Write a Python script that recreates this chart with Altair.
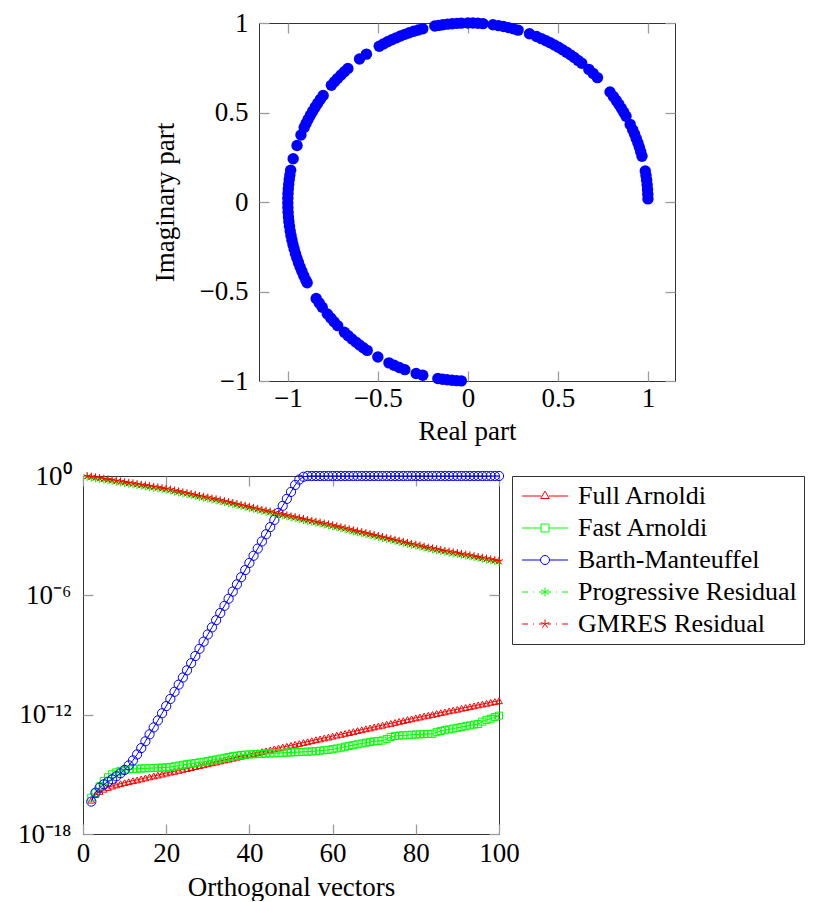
import altair as alt
import pandas as pd

# ---------------- data: eigenvalues (phase angle in degrees, |lambda| = 1) ----------------
eig_angle_deg = [
    1.0, 2.5, 4.0, 5.5, 7.0, 8.5, 10.0,
    14.8, 16.3, 17.8, 19.3, 20.8, 22.3, 23.8, 25.7,
    28.6, 30.1, 31.6, 33.1, 34.6, 36.1, 37.9,
    44.0, 45.9, 47.8,
    50.8, 52.3, 53.8, 55.3, 56.8, 58.3, 59.8, 61.3, 62.8, 64.3, 65.9, 67.6,
    70.0,
    73.8, 75.4, 77.0, 78.6, 80.2, 82.0,
    85.2, 86.8, 88.4, 90.0,
    92.1, 93.5, 95.0, 96.5, 98.0, 99.3, 100.6,
    104.5, 106.0, 107.5, 109.0, 110.5, 112.0, 113.5, 115.0, 116.5, 118.0, 119.5,
    124.3, 127.0,
    131.8, 133.3, 134.8, 136.3, 137.8, 139.3,
    143.5, 145.0, 146.5, 148.0, 149.5, 151.0, 152.5, 154.0, 155.4,
    158.0, 161.6, 166.0,
    169.8, 171.3, 172.8, 174.3, 175.8, 177.3, 178.8, 180.3, 181.8, 183.3,
    184.8, 186.3, 187.8, 189.3, 190.8, 192.3, 193.8, 195.3, 196.8, 198.3,
    199.8, 201.3, 202.8, 204.3, 205.8, 206.8,
    212.6, 214.3, 216.0,
    218.7, 220.4, 222.0, 223.7,
    226.7, 228.3, 229.9, 231.5, 233.0, 234.5, 236.0,
    240.0,
    244.0, 245.8, 247.6, 249.5,
    253.3, 255.5,
    260.4, 261.9, 263.4, 264.9, 266.4, 267.9,
]

# ---------------- data: orthogonality / residual histories (log10 values) ----------------
x_ortho = list(range(2, 101))
x_resid = list(range(1, 101))

full_arnoldi_log = [
    -16.30, -16.02, -15.86, -15.75, -15.66, -15.59, -15.53, -15.47, -15.42,
    -15.37, -15.32, -15.28, -15.23, -15.18, -15.13, -15.08, -15.04, -14.99, -14.94,
    -14.89, -14.85, -14.80, -14.75, -14.71, -14.66, -14.61, -14.56, -14.52, -14.47,
    -14.42, -14.38, -14.33, -14.28, -14.24, -14.19, -14.14, -14.09, -14.05, -14.00,
    -13.95, -13.91, -13.86, -13.82, -13.77, -13.72, -13.68, -13.63, -13.59, -13.54,
    -13.49, -13.45, -13.40, -13.36, -13.31, -13.26, -13.22, -13.17, -13.13, -13.08,
    -13.03, -12.99, -12.94, -12.90, -12.85, -12.80, -12.76, -12.71, -12.67, -12.62,
    -12.57, -12.53, -12.48, -12.44, -12.39, -12.34, -12.30, -12.25, -12.21, -12.16,
    -12.12, -12.07, -12.03, -11.99, -11.94, -11.90, -11.86, -11.81, -11.77, -11.73,
    -11.68, -11.64, -11.60, -11.56, -11.51, -11.47, -11.43, -11.38, -11.34, -11.30,
]
fast_arnoldi_log = [
    -16.17, -15.95, -15.60, -15.33, -15.15, -15.00, -14.90, -14.83, -14.78,
    -14.75, -14.73, -14.72, -14.71, -14.70, -14.69, -14.68, -14.67, -14.66, -14.65,
    -14.63, -14.60, -14.56, -14.52, -14.49, -14.46, -14.43, -14.40, -14.37, -14.33,
    -14.29, -14.25, -14.21, -14.17, -14.13, -14.09, -14.06, -14.03, -14.01, -14.00,
    -13.99, -13.98, -13.97, -13.96, -13.95, -13.94, -13.93, -13.92, -13.91, -13.90,
    -13.89, -13.88, -13.87, -13.86, -13.85, -13.83, -13.81, -13.79, -13.77, -13.74,
    -13.70, -13.66, -13.61, -13.57, -13.53, -13.49, -13.45, -13.41, -13.37, -13.34,
    -13.32, -13.30, -13.22, -13.12, -13.07, -13.05, -13.04, -13.03, -13.01, -13.00,
    -12.99, -12.98, -12.97, -12.96, -12.88, -12.82, -12.78, -12.74, -12.70, -12.66,
    -12.62, -12.58, -12.54, -12.50, -12.47, -12.35, -12.26, -12.20, -12.12, -12.05,
]
barth_manteuffel_log = [
    -16.37, -15.92, -15.67, -15.50, -15.37, -15.25, -15.10, -14.95, -14.78,
    -14.55, -14.30, -14.00, -13.68, -13.34, -12.99, -12.64, -12.29, -11.93, -11.57,
    -11.21, -10.85, -10.49, -10.13, -9.77, -9.41, -9.05, -8.69, -8.33, -7.97,
    -7.61, -7.25, -6.89, -6.53, -6.17, -5.81, -5.45, -5.09, -4.73, -4.37,
    -4.01, -3.65, -3.29, -2.93, -2.57, -2.21, -1.85, -1.50, -1.15, -0.80,
    -0.45, -0.18, -0.04, 0.0, 0.0, 0.0, 0.0, 0.0, 0.0, 0.0,
    0.0, 0.0, 0.0, 0.0, 0.0, 0.0, 0.0, 0.0, 0.0, 0.0,
    0.0, 0.0, 0.0, 0.0, 0.0, 0.0, 0.0, 0.0, 0.0, 0.0,
    0.0, 0.0, 0.0, 0.0, 0.0, 0.0, 0.0, 0.0, 0.0, 0.0,
    0.0, 0.0, 0.0, 0.0, 0.0, 0.0, 0.0, 0.0, 0.0, 0.0,
]
progressive_residual_log = [
    -0.05, -0.09, -0.12, -0.16, -0.19, -0.23, -0.26, -0.30, -0.33, -0.36,
    -0.40, -0.43, -0.46, -0.50, -0.53, -0.57, -0.60, -0.63, -0.67, -0.70,
    -0.74, -0.79, -0.83, -0.88, -0.92, -0.97, -1.01, -1.06, -1.10, -1.14,
    -1.19, -1.23, -1.28, -1.33, -1.37, -1.42, -1.47, -1.52, -1.56, -1.61,
    -1.66, -1.71, -1.76, -1.80, -1.85, -1.90, -1.95, -1.99, -2.04, -2.09,
    -2.13, -2.18, -2.22, -2.27, -2.31, -2.36, -2.40, -2.45, -2.49, -2.54,
    -2.59, -2.64, -2.69, -2.74, -2.79, -2.84, -2.88, -2.93, -2.98, -3.03,
    -3.08, -3.13, -3.18, -3.22, -3.27, -3.32, -3.37, -3.42, -3.47, -3.51,
    -3.56, -3.61, -3.66, -3.70, -3.74, -3.78, -3.82, -3.86, -3.90, -3.93,
    -3.97, -4.01, -4.05, -4.09, -4.13, -4.17, -4.21, -4.25, -4.29, -4.33,
]
gmres_residual_log = [
    0.00, -0.03, -0.07, -0.10, -0.14, -0.17, -0.20, -0.24, -0.27, -0.31,
    -0.34, -0.37, -0.41, -0.44, -0.47, -0.51, -0.54, -0.57, -0.61, -0.64,
    -0.68, -0.73, -0.77, -0.82, -0.86, -0.91, -0.95, -1.00, -1.04, -1.08,
    -1.13, -1.17, -1.22, -1.27, -1.31, -1.36, -1.41, -1.46, -1.50, -1.55,
    -1.60, -1.65, -1.70, -1.74, -1.79, -1.84, -1.89, -1.93, -1.98, -2.03,
    -2.07, -2.12, -2.16, -2.21, -2.25, -2.30, -2.34, -2.39, -2.43, -2.48,
    -2.53, -2.58, -2.63, -2.68, -2.73, -2.78, -2.82, -2.87, -2.92, -2.97,
    -3.02, -3.07, -3.12, -3.16, -3.21, -3.26, -3.31, -3.36, -3.41, -3.45,
    -3.50, -3.55, -3.60, -3.64, -3.68, -3.72, -3.76, -3.80, -3.84, -3.87,
    -3.91, -3.95, -3.99, -4.03, -4.07, -4.11, -4.15, -4.19, -4.23, -4.27,
]

series_names = ["Full Arnoldi", "Fast Arnoldi", "Barth-Manteuffel",
                "Progressive Residual", "GMRES Residual"]
series_colors = ["#ff0000", "#00ff00", "#0000ff", "#00ff00", "#ff0000"]

# tick values / labels
x_top_ticks = [-1, -0.5, 0, 0.5, 1]
y_top_ticks = [-1, -0.5, 0, 0.5, 1]
x_bot_ticks = [0, 20, 40, 60, 80, 100]
y_bot_tick_exps = [0, -6, -12, -18]
y_bot_tick_labels = ["10⁰", "10⁻⁶", "10⁻¹²", "10⁻¹⁸"]

# ---------------- styling ----------------
FONT = "Liberation Serif"
FS = 27
W, H = 416, 358
TICK_COLOR = "#9c9c9c"
TICK_LEN = 10


def tick_axis(orient, offset, values):
    return alt.Axis(orient=orient, offset=offset, values=values, labels=False,
                    ticks=True, tickSize=TICK_LEN, tickColor=TICK_COLOR,
                    tickWidth=1.3, domain=False, grid=False, title=None)


# ---------------- top chart: eigenvalues ----------------
top_df = pd.DataFrame({"angle": eig_angle_deg})
base_top = alt.Chart(top_df).transform_calculate(
    re="cos(datum.angle * PI / 180)", im="sin(datum.angle * PI / 180)")
xs_top = alt.Scale(domain=[-1.16, 1.15], nice=False, zero=False)
ys_top = alt.Scale(domain=[-1, 1], nice=False, zero=False)

scatter = base_top.mark_circle(size=130, color="#0000ff", opacity=1).encode(
    x=alt.X("re:Q", scale=xs_top,
            axis=alt.Axis(orient="bottom", values=x_top_ticks, format="~g",
                          title="Real part", ticks=False, domain=False, grid=False,
                          labelFlush=False, labelPadding=4, titlePadding=7)),
    y=alt.Y("im:Q", scale=ys_top,
            axis=alt.Axis(orient="left", values=y_top_ticks, format="~g",
                          title="Imaginary part", ticks=False, domain=False, grid=False,
                          labelFlush=False, labelPadding=11, titlePadding=20)),
)
top_ticks_a = base_top.mark_point(opacity=0, size=1).encode(
    x=alt.X("re:Q", scale=xs_top, axis=tick_axis("top", -H, x_top_ticks)),
    y=alt.Y("im:Q", scale=ys_top, axis=tick_axis("right", -W, y_top_ticks)),
)
top_ticks_b = base_top.mark_point(opacity=0, size=1).encode(
    x=alt.X("re:Q", scale=xs_top, axis=tick_axis("bottom", -H, x_top_ticks)),
    y=alt.Y("im:Q", scale=ys_top, axis=tick_axis("left", -W, y_top_ticks)),
)
top_panel = alt.layer(scatter, top_ticks_a, top_ticks_b).properties(width=W, height=H)

# empty, frameless cell that pushes the upper panel to the right
spacer = alt.Chart(pd.DataFrame({"s": [0]})).mark_point(opacity=0).properties(
    width=56, height=10, view=alt.ViewBackground(stroke="transparent"))
top = alt.hconcat(spacer, top_panel, spacing=10)

# ---------------- bottom chart: orthogonality ----------------
rows = []
for name, xs, vals in [
    ("Full Arnoldi", x_ortho, full_arnoldi_log),
    ("Fast Arnoldi", x_ortho, fast_arnoldi_log),
    ("Barth-Manteuffel", x_ortho, barth_manteuffel_log),
    ("Progressive Residual", x_resid, progressive_residual_log),
    ("GMRES Residual", x_resid, gmres_residual_log),
]:
    for xv, lv in zip(xs, vals):
        rows.append({"series": name, "x": xv, "value": 10.0 ** lv})
bot_df = pd.DataFrame(rows)

xs_bot = alt.Scale(domain=[0, 100], nice=False, zero=False)
ys_bot = alt.Scale(type="log", domain=[1e-18, 1], nice=False)

ylab_expr = " : ".join(
    f"round(log(datum.value)/LN10) == {e} ? '{lab}'"
    for e, lab in zip(y_bot_tick_exps, y_bot_tick_labels)) + " : ''"
y_bot_values = [10.0 ** e for e in y_bot_tick_exps]

x_label_axis = alt.Axis(orient="bottom", values=x_bot_ticks, title="Orthogonal vectors",
                        ticks=False, domain=False, grid=False, labelFlush=False,
                        labelPadding=6, titlePadding=8)
y_label_axis = alt.Axis(orient="left", values=y_bot_values, labelExpr=ylab_expr,
                        title=None, ticks=False, domain=False, grid=False,
                        labelFlush=False, labelPadding=12)

styles = {
    "Full Arnoldi": dict(shape="triangle-up", size=45, dash=None),
    "Fast Arnoldi": dict(shape="square", size=50, dash=None),
    "Barth-Manteuffel": dict(shape="circle", size=85, dash=None),
    "Progressive Residual": dict(shape="M0,-1L0,1M-0.87,-0.5L0.87,0.5M-0.87,0.5L0.87,-0.5",
                                 size=60, dash=[7, 5, 1, 5]),
    "GMRES Residual": dict(shape="M0,0L0,-1M0,0L0.951,-0.309M0,0L0.588,0.809M0,0L-0.588,0.809M0,0L-0.951,-0.309",
                           size=64, dash=[7, 5, 1, 5]),
}

layers = []
first = True
for name, color in zip(series_names, series_colors):
    st = styles[name]
    d = bot_df[bot_df["series"] == name]
    base = alt.Chart(d)
    xa = x_label_axis if first else None
    ya = y_label_axis if first else None
    line_kwargs = dict(color=color, strokeWidth=1)
    if st["dash"] is not None:
        line_kwargs["strokeDash"] = st["dash"]
    line = base.mark_line(**line_kwargs).encode(
        x=alt.X("x:Q", scale=xs_bot, axis=xa),
        y=alt.Y("value:Q", scale=ys_bot, axis=ya),
    )
    pts = base.mark_point(shape=st["shape"], size=st["size"], color=color,
                          filled=False, opacity=1, strokeWidth=1).encode(
        x=alt.X("x:Q", scale=xs_bot, axis=None),
        y=alt.Y("value:Q", scale=ys_bot, axis=None),
    )
    layers += [line, pts]
    first = False

bot_ticks_a = alt.Chart(bot_df).mark_point(opacity=0, size=1).encode(
    x=alt.X("x:Q", scale=xs_bot, axis=tick_axis("top", -H, x_bot_ticks)),
    y=alt.Y("value:Q", scale=ys_bot, axis=tick_axis("right", -W, y_bot_values)),
)
bot_ticks_b = alt.Chart(bot_df).mark_point(opacity=0, size=1).encode(
    x=alt.X("x:Q", scale=xs_bot, axis=tick_axis("bottom", -H, x_bot_ticks)),
    y=alt.Y("value:Q", scale=ys_bot, axis=tick_axis("left", -W, y_bot_values)),
)

# ---------------- legend glyphs (line + marker), drawn in pixel terms ----------------
GU = 10.0          # px per path unit -> legend symbolSize = (2*GU)^2
GLEN = 46.0        # glyph length in px
MC = GLEN / 2      # marker centre


def gx(px):
    return f"{px / GU - 1:.3f}"


def gy(py):
    return f"{py / GU:.3f}"


def seg(x0, x1):
    return f"M{gx(x0)},0L{gx(x1)},0"


dashdot = "".join(seg(a, b) for a, b in
                  [(0, 6), (11, 12), (17, 20.5), (25.5, 29), (34, 35), (40, 46)])
r = 4.5
glyph_full = (seg(0, MC - 4) + seg(MC + 4, GLEN) +
              f"M{gx(MC)},{gy(-4.9)}L{gx(MC + 4.3)},{gy(2.5)}L{gx(MC - 4.3)},{gy(2.5)}Z")
glyph_fast = (seg(0, MC - 4) + seg(MC + 4, GLEN) +
              f"M{gx(MC - 4)},{gy(-4)}L{gx(MC + 4)},{gy(-4)}L{gx(MC + 4)},{gy(4)}"
              f"L{gx(MC - 4)},{gy(4)}Z")
glyph_barth = (seg(0, MC - r) + seg(MC + r, GLEN) +
               f"M{gx(MC - r)},0A{r / GU},{r / GU},0,1,0,{gx(MC + r)},0"
               f"A{r / GU},{r / GU},0,1,0,{gx(MC - r)},0")
glyph_prog = (dashdot +
              f"M{gx(MC)},{gy(-4.5)}L{gx(MC)},{gy(4.5)}"
              f"M{gx(MC - 3.9)},{gy(-2.25)}L{gx(MC + 3.9)},{gy(2.25)}"
              f"M{gx(MC - 3.9)},{gy(2.25)}L{gx(MC + 3.9)},{gy(-2.25)}")
glyph_gmres = dashdot + "".join(
    f"M{gx(MC)},0L{gx(MC + dx)},{gy(dy)}"
    for dx, dy in [(0, -4.6), (4.37, -1.42), (2.7, 3.72), (-2.7, 3.72), (-4.37, -1.42)])
legend_glyphs = [glyph_full, glyph_fast, glyph_barth, glyph_prog, glyph_gmres]

leg = alt.Legend(title=None, orient="right", offset=12, labelFont=FONT, labelFontSize=26,
                 labelColor="#000", labelLimit=500, symbolSize=(2 * GU) ** 2,
                 symbolStrokeWidth=1, symbolOpacity=1, symbolFillColor="transparent",
                 strokeColor="#333", fillColor="white", padding=7, rowPadding=6,
                 labelOffset=GLEN + 7 - 2 * GU, cornerRadius=0)
legend_layer = alt.Chart(pd.DataFrame({"series": series_names})).mark_point(
    filled=False, opacity=1).encode(
    color=alt.Color("series:N", scale=alt.Scale(domain=series_names, range=series_colors),
                    legend=leg),
    shape=alt.Shape("series:N", scale=alt.Scale(domain=series_names, range=legend_glyphs),
                    legend=leg),
).transform_filter("false")

bottom = alt.layer(*layers, bot_ticks_a, bot_ticks_b, legend_layer).properties(
    width=W, height=H)

chart = alt.vconcat(top, bottom, spacing=16).resolve_scale(
    color="independent", shape="independent"
).resolve_legend(color="independent", shape="independent").properties(
    padding={"left": 8, "top": 0, "right": 0, "bottom": 0}
).configure_view(stroke="#333", strokeWidth=1).configure_axis(
    labelFont=FONT, labelFontSize=FS, labelColor="#000",
    titleFont=FONT, titleFontSize=FS, titleColor="#000", titleFontWeight="normal",
).configure_legend(labelFont=FONT)

chart.save("out.html", embed_options={"renderer": "svg", "actions": False})
